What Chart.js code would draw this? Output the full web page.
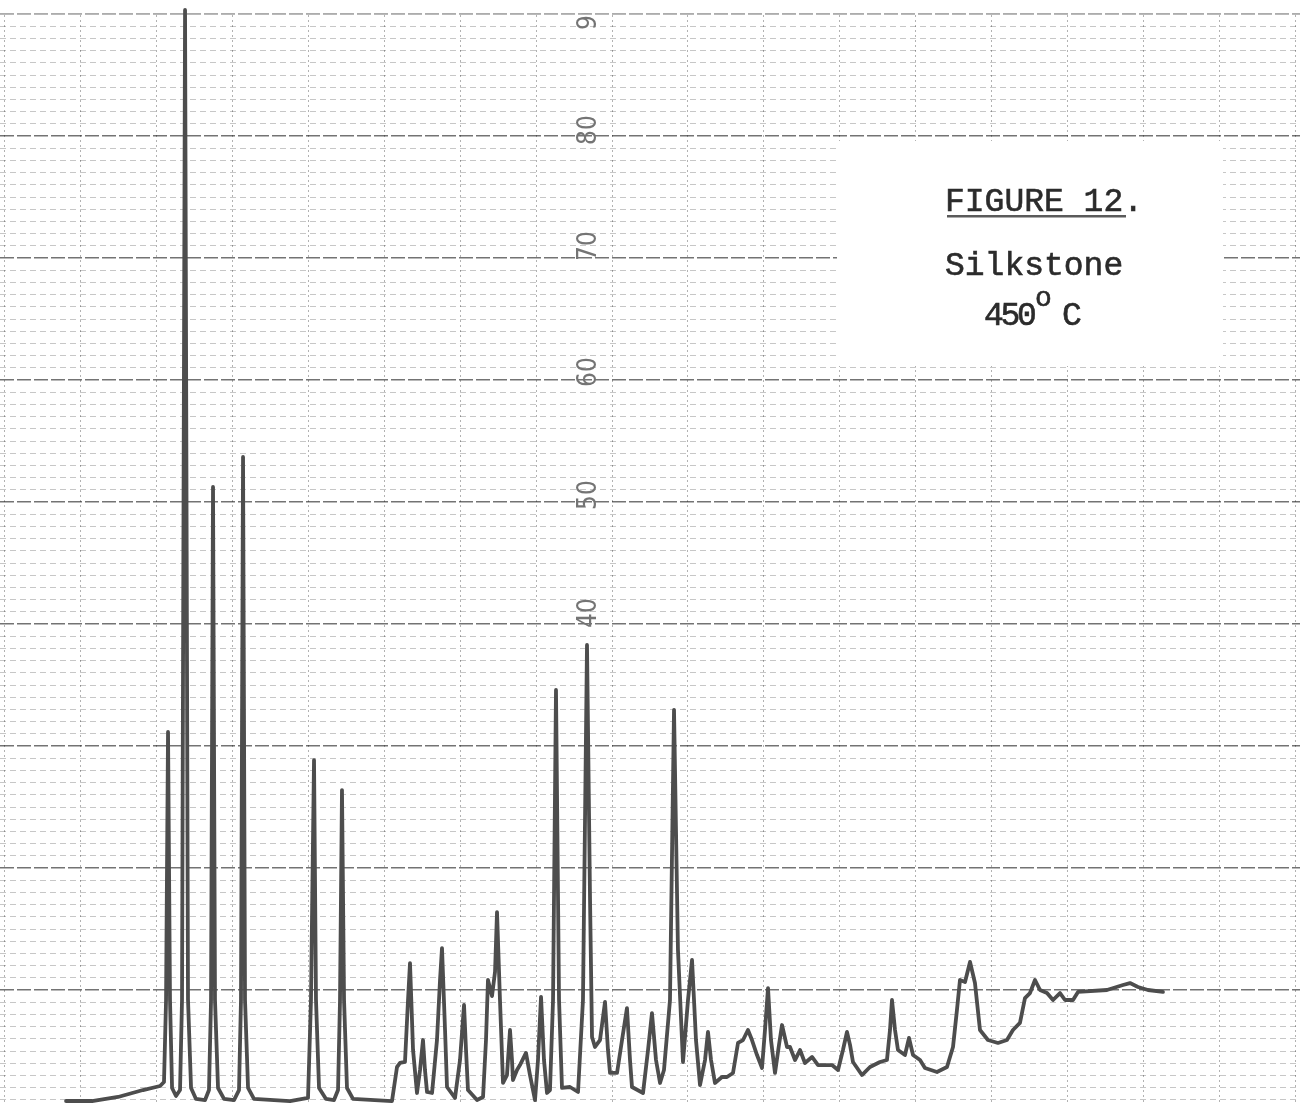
<!DOCTYPE html>
<html>
<head>
<meta charset="utf-8">
<script src="https://cdn.jsdelivr.net/npm/chart.js@4.4.1/dist/chart.umd.min.js"></script>
<style>
  html, body { margin: 0; padding: 0; background: #fff; }
  #wrap { width: 1300px; height: 1105px; position: relative; }
</style>
</head>
<body>
<div id="wrap"><canvas id="chart" width="1300" height="1105"></canvas></div>
<script>
// Chromatogram trace: retention (chart divisions) and detector response (% full scale)
const retentionTime = [
  0.816, 1.158, 1.500, 1.829, 2.053, 2.105, 2.132, 2.158, 2.184, 2.211, 2.263,
  2.316, 2.342, 2.382, 2.421, 2.461, 2.526, 2.645,
  2.697, 2.724, 2.750, 2.776, 2.816, 2.895, 3.026,
  3.092, 3.118, 3.145, 3.171, 3.211, 3.289, 3.763,
  4.000, 4.039, 4.079, 4.105, 4.145, 4.237, 4.342,
  4.395, 4.421, 4.447, 4.474, 4.513, 4.592, 5.105,
  5.171, 5.211, 5.276, 5.316, 5.342, 5.382, 5.434, 5.474, 5.513, 5.539, 5.566, 5.632,
  5.697, 5.737, 5.763, 5.803, 5.829, 5.934, 6.000, 6.053, 6.079, 6.105, 6.224, 6.303,
  6.342, 6.368, 6.421, 6.461, 6.487, 6.526, 6.566, 6.618, 6.658, 6.684, 6.697, 6.750,
  6.789, 6.868, 6.921, 6.987, 7.026, 7.066, 7.105, 7.145, 7.184,
  7.224, 7.263, 7.303, 7.342, 7.447, 7.553,
  7.618, 7.671, 7.711, 7.737, 7.776, 7.842, 7.908, 7.947, 7.974, 8.066, 8.132, 8.197,
  8.237, 8.263, 8.408, 8.474, 8.526, 8.579, 8.632, 8.684,
  8.763, 8.816, 8.868, 8.934, 9.000, 9.053, 9.105, 9.158,
  9.224, 9.263, 9.303, 9.355, 9.447, 9.513, 9.592, 9.658, 9.724, 9.789, 9.842, 9.908, 9.974,
  10.013, 10.053, 10.092, 10.145, 10.197, 10.237, 10.303, 10.342, 10.408, 10.474, 10.539,
  10.632, 10.711, 10.803, 10.895, 10.974,
  11.039, 11.092, 11.132, 11.171, 11.289, 11.395, 11.526, 11.618, 11.658, 11.684, 11.724,
  11.763, 11.855, 11.908, 11.961, 12.053, 12.118, 12.276, 12.408,
  12.487, 12.539, 12.579, 12.645, 12.711, 12.776, 12.842, 12.947, 13.079, 13.197, 13.276,
  13.368, 13.434, 13.500, 13.566, 13.632, 13.724, 13.803, 13.895, 13.961, 14.066, 14.132,
  14.513, 14.724, 14.816, 14.921, 15.053, 15.250
];
const detectorResponse = [
  0.90, 0.90, 1.23, 1.80, 2.13, 2.46, 9.18, 31.15, 9.18, 1.97, 1.31,
  1.80, 9.18, 90.33, 9.18, 1.97, 1.07, 0.98,
  1.80, 9.18, 51.23, 9.18, 1.97, 1.07, 0.98,
  1.80, 9.18, 53.69, 9.18, 1.97, 1.07, 0.90,
  1.15, 9.18, 28.85, 9.18, 1.97, 1.07, 0.98,
  1.80, 9.18, 26.39, 9.18, 1.97, 1.07, 0.90,
  3.69, 4.02, 4.10, 9.18, 12.21, 5.08, 1.56, 3.44, 5.90, 3.44, 1.64, 1.56,
  5.90, 10.82, 13.44, 6.72, 2.05, 1.15, 4.26, 8.77, 5.08, 1.80, 0.98, 1.23,
  5.90, 10.82, 9.50, 11.50, 16.39, 9.18, 2.38, 3.03, 6.72, 4.26, 2.62, 3.44,
  3.85, 4.84, 3.03, 0.98, 4.26, 9.43, 4.26, 1.56, 1.80,
  9.18, 34.59, 9.18, 1.97, 2.05, 1.64,
  9.18, 38.28, 17.38, 6.15, 5.33, 5.90, 9.02, 5.08, 3.20, 3.20, 5.90, 8.52,
  4.26, 2.05, 1.56, 5.08, 8.11, 4.26, 2.38, 3.44,
  9.18, 32.95, 13.28, 4.10, 9.18, 12.46, 5.90, 2.21,
  4.26, 6.56, 4.26, 2.38, 2.87, 2.87, 3.20, 5.66, 5.90, 6.72, 5.90, 4.67, 3.61,
  6.72, 10.16, 5.90, 3.20, 5.50, 7.13, 5.33, 5.33, 4.26, 5.08, 4.02,
  4.51, 3.85, 3.85, 3.85, 3.44,
  5.08, 6.56, 5.50, 4.10, 3.03, 3.69, 4.10, 4.26, 6.72, 9.18, 6.72,
  5.08, 4.67, 6.07, 4.67, 4.26, 3.61, 3.28, 3.69,
  5.33, 8.36, 10.82, 10.66, 12.30, 10.57, 6.72, 5.90, 5.66, 5.90, 6.72,
  7.30, 9.34, 9.75, 10.82, 10.00, 9.75, 9.18, 9.75, 9.18, 9.18, 9.84,
  10.00, 10.41, 10.57, 10.25, 10.00, 9.84
];

// Values written along the recorder paper
const responseScaleLabels = [90, 80, 70, 60, 50, 40];

// Caption typed on the sheet
const figureTitle = 'FIGURE 12.';
const sampleName = 'Silkstone';
const temperatureValue = '450';
const temperatureUnit = 'C';

const PAPER_TOP = 90;
const TRACE = '#4d4d4d';
// hand-written numerals sit a little above their rulings, unevenly
const labelLift = { 90: -1, 80: 6, 70: 12, 60: 8, 50: 7, 40: 11 };

const paperPlugin = {
  id: 'recorderPaper',
  beforeDatasetsDraw(chart) {
    const ctx = chart.ctx;
    const ys = chart.scales.y;
    const topY = ys.getPixelForValue(PAPER_TOP);
    ctx.save();
    // blank strip above the top ruling
    ctx.fillStyle = '#fff';
    ctx.fillRect(0, 0, chart.width, topY - 0.6);
    // white caption patch pasted over the ruling
    ctx.fillRect(837, 141, 386, 225);

    // response values written along the paper
    ctx.beginPath();
    ctx.rect(0, topY - 0.5, chart.width, chart.height);
    ctx.clip();
    ctx.fillStyle = '#747474';
    ctx.font = '26px "Liberation Sans Narrow", "DejaVu Sans Condensed", sans-serif';
    ctx.textAlign = 'center';
    ctx.textBaseline = 'middle';
    responseScaleLabels.forEach(v => {
      const y = ys.getPixelForValue(v) - (labelLift[v] || 8);
      ctx.save();
      ctx.translate(589, y);
      ctx.rotate(-Math.PI / 2);
      ctx.fillText(String(v), 0, 0);
      ctx.restore();
    });
    ctx.restore();

    // caption text
    ctx.save();
    ctx.fillStyle = '#2b2b2b';
    ctx.strokeStyle = '#2b2b2b';
    ctx.lineWidth = 0.6;
    ctx.textBaseline = 'alphabetic';
    ctx.textAlign = 'left';
    const typed = (s, x, y) => { ctx.fillText(s, x, y); ctx.strokeText(s, x, y); };
    ctx.font = '33px "Liberation Mono", "DejaVu Sans Mono", monospace';
    typed(figureTitle, 945, 211);
    ctx.fillStyle = '#5a5a5a';
    ctx.fillRect(947, 215, 179, 2.5);
    ctx.fillStyle = '#2b2b2b';
    typed(sampleName, 945, 275);
    let x = 984;
    for (const ch of temperatureValue) {
      typed(ch, x, 325);
      x += 16.5;
    }
    ctx.font = '28px "Liberation Mono", "DejaVu Sans Mono", monospace';
    typed('o', 1035, 306);
    ctx.font = '33px "Liberation Mono", "DejaVu Sans Mono", monospace';
    typed(temperatureUnit, 1062, 325);
    ctx.restore();
  }
};

const points = retentionTime.map((t, i) => ({ x: t, y: detectorResponse[i] }));

new Chart(document.getElementById('chart'), {
  type: 'line',
  data: {
    datasets: [{
      data: points,
      borderColor: TRACE,
      borderWidth: 3.8,
      pointRadius: 0,
      tension: 0,
      borderJoinStyle: 'round',
      borderCapStyle: 'round',
      fill: false
    }]
  },
  options: {
    responsive: false,
    devicePixelRatio: 1,
    animation: false,
    layout: { padding: 0 },
    plugins: { legend: { display: false }, tooltip: { enabled: false } },
    scales: {
      x: {
        type: 'linear',
        min: -0.053,
        max: 17.053,
        ticks: { display: false, stepSize: 1, includeBounds: false },
        grid: { color: 'rgba(0,0,0,0.30)', lineWidth: 1, drawTicks: false },
        border: { display: false, dash: [2, 3] }
      },
      y: {
        type: 'linear',
        min: 0.574,
        max: 91.148,
        ticks: { display: false, stepSize: 1, includeBounds: false },
        grid: {
          drawTicks: false,
          lineWidth: 1,
          color: c => {
            const v = c.tick ? c.tick.value : 0;
            if (v > PAPER_TOP + 0.5 || Math.round(v) % 10 === 0) return 'rgba(0,0,0,0)';
            return 'rgba(0,0,0,0.22)';
          }
        },
        border: { display: false, dash: [6, 4] }
      },
      yMajor: {
        type: 'linear',
        position: 'left',
        min: 0.574,
        max: 91.148,
        ticks: { display: false, stepSize: 10, includeBounds: false },
        grid: { drawTicks: false, lineWidth: 1.4, color: 'rgba(0,0,0,0.55)' },
        border: { display: false, dash: [14, 3] }
      }
    }
  },
  plugins: [paperPlugin]
});
</script>
</body>
</html>
